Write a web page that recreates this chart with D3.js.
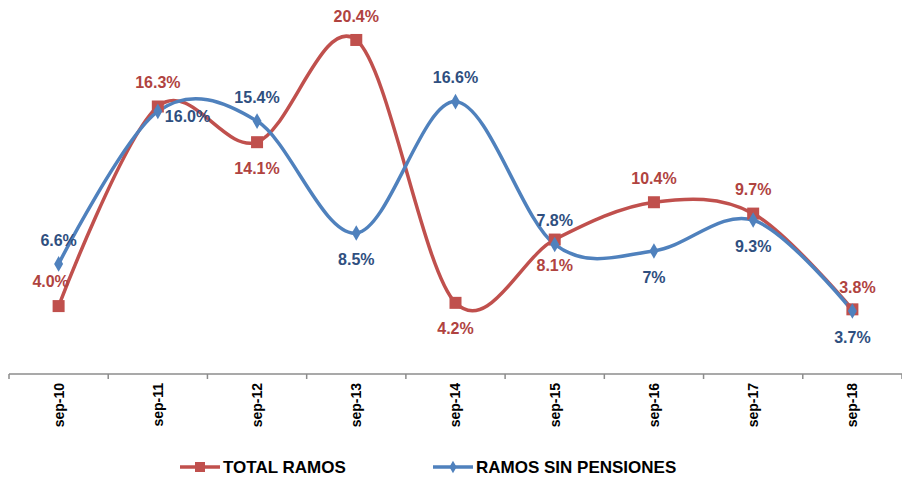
<!DOCTYPE html>
<html>
<head>
  <meta charset="utf-8">
  <style type="text/css">
    body { margin: 0; background: #fff; }
    svg { display: block; font-family: "Liberation Sans", Arial, sans-serif; }
    .axis path, .axis line { stroke: #8c8c8c; stroke-width: 1.5px; }
    .axis text { font-size: 14px; font-weight: bold; fill: #000; }
    .lbl { font-size: 16px; font-weight: bold; }
    .legend text { font-size: 17px; font-weight: bold; fill: #000; }
  </style>
</head>
<body>
  <script src="https://d3js.org/d3.v7.min.js"></script>
  <script>
    // data
    var categories = ["sep-10","sep-11","sep-12","sep-13","sep-14","sep-15","sep-16","sep-17","sep-18"];
    var totalRamos = [4.0, 16.3, 14.1, 20.4, 4.2, 8.1, 10.4, 9.7, 3.8];
    var sinPensiones = [6.6, 16.0, 15.4, 8.5, 16.6, 7.8, 7.4, 9.3, 3.7];
    var totalLabels = ["4.0%","16.3%","14.1%","20.4%","4.2%","8.1%","10.4%","9.7%","3.8%"];
    var sinLabels = ["6.6%","16.0%","15.4%","8.5%","16.6%","7.8%","7%","9.3%","3.7%"];
    var seriesNames = ["TOTAL RAMOS", "RAMOS SIN PENSIONES"];

    // where each label sits relative to its point
    var totalPlace = ["upleft","above","below","above","below","below","above","above","upright"];
    var sinPlace = ["above","right","above","below","above","above","below","below","below"];

    var W = 902, H = 477;
    var margin = {top: 14, right: 0, bottom: 106, left: 9};
    var width = W - margin.left - margin.right;
    var height = H - margin.top - margin.bottom;

    var svg = d3.select("body").append("svg")
      .attr("width", W)
      .attr("height", H);

    var g = svg.append("g")
      .attr("transform", "translate(" + margin.left + "," + margin.top + ")");

    var x = d3.scaleBand()
      .domain(categories)
      .range([0, width]);

    var y = d3.scaleLinear()
      .domain([0, 22])
      .range([height, 0]);

    var xAxis = d3.axisBottom(x)
      .tickSize(0)
      .tickPadding(0);

    var axisG = g.append("g")
      .attr("class", "x axis")
      .attr("transform", "translate(0," + (height + 3) + ")")
      .call(xAxis);

    axisG.select(".domain").attr("d", "M0,0H" + width);
    axisG.selectAll(".tick text")
      .attr("transform", "rotate(-90)")
      .attr("text-anchor", "end")
      .attr("x", -9)
      .attr("y", 0)
      .attr("dy", "0.35em");

    // tick marks between categories
    var bounds = categories.map(function(c) { return x(c); }).concat([width]);
    axisG.selectAll(".sep")
      .data(bounds)
      .enter().append("line")
      .attr("x1", function(d) { return d; })
      .attr("x2", function(d) { return d; })
      .attr("y1", 0)
      .attr("y2", 5);

    var cx = function(i) { return x(categories[i]) + x.bandwidth() / 2; };

    var line = d3.line()
      .x(function(d, i) { return cx(i); })
      .y(function(d) { return y(d); })
      .curve(d3.curveCatmullRom.alpha(0));

    var red = "#c0504d", blue = "#4f81bd";
    var redText = "#b0433f", blueText = "#2f4f7f";

    g.append("path")
      .datum(totalRamos)
      .attr("d", line)
      .attr("fill", "none")
      .attr("stroke", red)
      .attr("stroke-width", 3.5);

    g.append("path")
      .datum(sinPensiones)
      .attr("d", line)
      .attr("fill", "none")
      .attr("stroke", blue)
      .attr("stroke-width", 3.5);

    g.selectAll(".sq")
      .data(totalRamos)
      .enter().append("rect")
      .attr("x", function(d, i) { return cx(i) - 6; })
      .attr("y", function(d) { return y(d) - 6; })
      .attr("width", 12)
      .attr("height", 12)
      .attr("fill", red);

    var diamond = d3.symbol().type(d3.symbolDiamond).size(70);
    g.selectAll(".dm")
      .data(sinPensiones)
      .enter().append("path")
      .attr("d", diamond)
      .attr("transform", function(d, i) { return "translate(" + cx(i) + "," + y(d) + ")"; })
      .attr("fill", blue);

    function offset(p) {
      if (p === "above") return [0, -24, "middle"];
      if (p === "below") return [0, 26, "middle"];
      if (p === "right") return [7, 5, "start"];
      if (p === "upleft") return [-8, -25, "middle"];
      if (p === "upright") return [5, -22, "middle"];
      return [0, 0, "middle"];
    }

    function labels(vals, texts, places, color) {
      g.selectAll(null)
        .data(vals)
        .enter().append("text")
        .attr("class", "lbl")
        .attr("fill", color)
        .attr("x", function(d, i) { return cx(i) + offset(places[i])[0]; })
        .attr("y", function(d, i) { return y(d) + offset(places[i])[1]; })
        .attr("dy", "0.35em")
        .attr("text-anchor", function(d, i) { return offset(places[i])[2]; })
        .text(function(d, i) { return texts[i]; });
    }
    labels(totalRamos, totalLabels, totalPlace, redText);
    labels(sinPensiones, sinLabels, sinPlace, blueText);

    // legend
    var legend = svg.append("g").attr("class", "legend");
    var items = [
      {name: seriesNames[0], color: red, x: 180, sym: "sq"},
      {name: seriesNames[1], color: blue, x: 433, sym: "dm"}
    ];
    items.forEach(function(it) {
      var lg = legend.append("g").attr("transform", "translate(" + it.x + ",467)");
      lg.append("line")
        .attr("x1", 0).attr("x2", 40)
        .attr("stroke", it.color)
        .attr("stroke-width", 3.5);
      if (it.sym === "sq") {
        lg.append("rect").attr("x", 15).attr("y", -5).attr("width", 10).attr("height", 10).attr("fill", it.color);
      } else {
        lg.append("path").attr("d", d3.symbol().type(d3.symbolDiamond).size(45)).attr("transform", "translate(20,0)").attr("fill", it.color);
      }
      lg.append("text")
        .attr("x", 43)
        .attr("dy", "0.36em")
        .text(it.name);
    });
  </script>
</body>
</html>
